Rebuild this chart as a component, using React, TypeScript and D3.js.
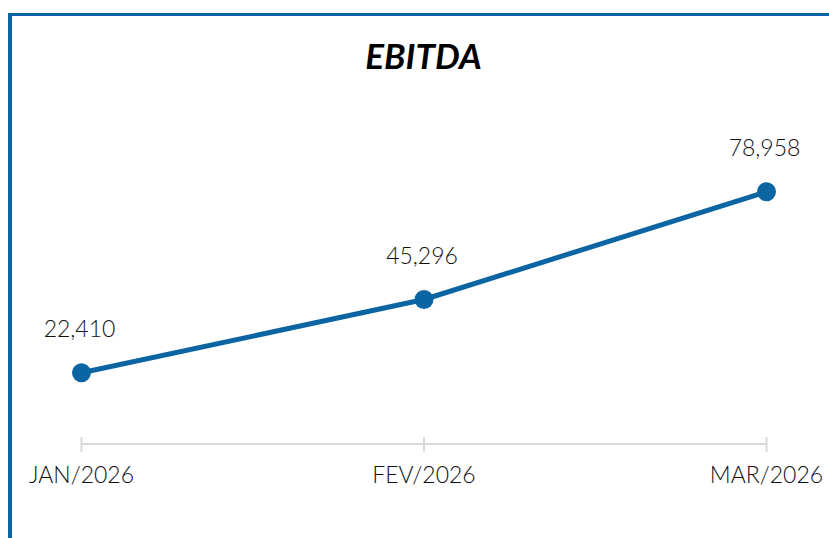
import React from "react";
import * as d3 from "d3";

const categories = ["JAN/2026", "FEV/2026", "MAR/2026"];
const values = [22410, 45296, 78958];
const title = "EBITDA";

const W = 829;
const H = 538;
const BLUE = "#0B65A3";

export default function App() {
  const x = d3.scalePoint<string>().domain(categories).range([81.5, 766.5]);
  const y = d3.scaleLinear().domain([0, 100000]).range([444.5, 124.4]);
  const line = d3
    .line<number>()
    .x((_, i) => x(categories[i]) as number)
    .y((d) => y(d));
  const fmt = d3.format(",");
  const axisY = 444;

  return (
    <div style={{ position: "fixed", left: 0, top: 0, width: W, height: H, background: "#fff" }}>
      <svg width={W} height={H} style={{ display: "block" }}>
        <rect x={0} y={0} width={W} height={H} fill="#fff" />
        {/* frame */}
        <rect x={8} y={13} width={W - 8} height={3} fill={BLUE} />
        <rect x={8} y={13} width={4} height={H - 13} fill={BLUE} />
        {/* title */}
        <text
          x={423.5}
          y={69}
          textAnchor="middle"
          fontFamily="Lato, sans-serif"
          fontWeight={700}
          fontStyle="italic"
          fontSize={35}
          fill="#000"
        >
          {title}
        </text>
        {/* axis */}
        <line
          x1={x(categories[0])}
          x2={x(categories[categories.length - 1])}
          y1={axisY}
          y2={axisY}
          stroke="#d9d9d9"
          strokeWidth={2}
        />
        {categories.map((c) => (
          <g key={c}>
            <line x1={x(c)} x2={x(c)} y1={437} y2={452} stroke="#d9d9d9" strokeWidth={2} />
            <text
              x={x(c)}
              y={483}
              textAnchor="middle"
              fontFamily="Lato, sans-serif"
              fontWeight={300}
              fontSize={23}
              fill="#111"
            >
              {c}
            </text>
          </g>
        ))}
        {/* line */}
        <path d={line(values) ?? ""} fill="none" stroke={BLUE} strokeWidth={5} strokeLinejoin="round" />
        {values.map((v, i) => (
          <g key={i}>
            <circle cx={x(categories[i])} cy={y(v)} r={9.5} fill={BLUE} />
            <text
              x={(x(categories[i]) as number) - 2}
              y={y(v) - 36}
              textAnchor="middle"
              fontFamily="Lato, sans-serif"
              fontWeight={300}
              fontSize={23}
              fill="#111"
            >
              {fmt(v)}
            </text>
          </g>
        ))}
      </svg>
    </div>
  );
}
